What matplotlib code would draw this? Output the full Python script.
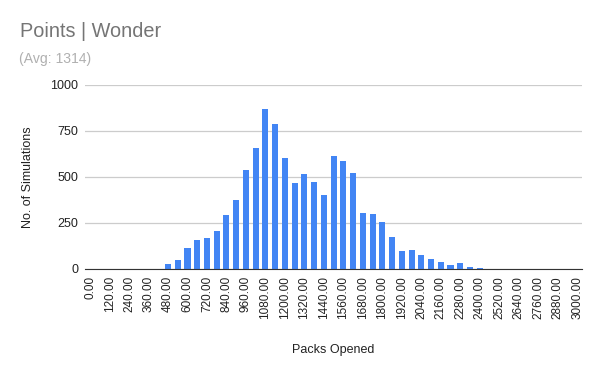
#!/usr/bin/env python3
"""
Histogram of simulated packs opened -- Points | Wonder
"""

import matplotlib
matplotlib.use("Agg")
import matplotlib.pyplot as plt

# bin starts (packs opened), 60 wide
bins = list(range(0, 3001, 60))

# simulations per bin
counts = [
    0, 0, 0, 0, 0, 0, 0, 0,            # 0 .. 420
    27, 49, 114, 157, 168, 206, 293, 374,   # 480 .. 900
    537, 656, 868, 788, 602, 467, 515, 472,  # 960 .. 1380
    401, 613, 588, 521, 304, 298, 255, 174,  # 1440 .. 1860
    98, 103, 76, 54, 38, 22, 33, 11,         # 1920 .. 2340
    5,                                       # 2400
    0, 0, 0, 0, 0, 0, 0, 0, 0, 0,            # 2460 .. 3000
]

yticks = [0, 250, 500, 750, 1000]

plt.rcParams["font.family"] = ["Liberation Sans", "DejaVu Sans"]

fig = plt.figure(figsize=(6, 3.71), dpi=100)
ax = fig.add_axes([0.142, 0.275, 0.828, 0.496])

pos = list(range(len(bins)))
ax.bar(pos, counts, width=0.62, color="#4285F4", zorder=3)

ax.set_xlim(-0.5, len(bins) - 0.5)
ax.set_ylim(0, 1000)
ax.set_yticks(yticks)
ax.set_yticklabels([str(v) for v in yticks], fontsize=9, color="#222222")
ax.grid(axis="y", color="#cccccc", linewidth=0.9, zorder=0)

# label every other bin
ax.set_xticks(pos[::2])
ax.set_xticklabels([f"{b:.2f}" for b in bins[::2]], rotation=90,
                   fontsize=8.5, color="#222222")
ax.tick_params(length=0, pad=5)

for s in ("top", "right", "left"):
    ax.spines[s].set_visible(False)
ax.spines["bottom"].set_color("#333333")
ax.spines["bottom"].set_zorder(4)

ax.set_xlabel("Packs Opened", fontsize=9, color="#222222", labelpad=18)
ax.set_ylabel("No. of Simulations", fontsize=9, color="#222222", labelpad=12)

fig.text(0.033, 0.900, "Points | Wonder", fontsize=14.3, color="#757575")
fig.text(0.032, 0.830, "(Avg: 1314)", fontsize=10.1, color="#b0b0b0")

fig.savefig("out.png", dpi=100)
